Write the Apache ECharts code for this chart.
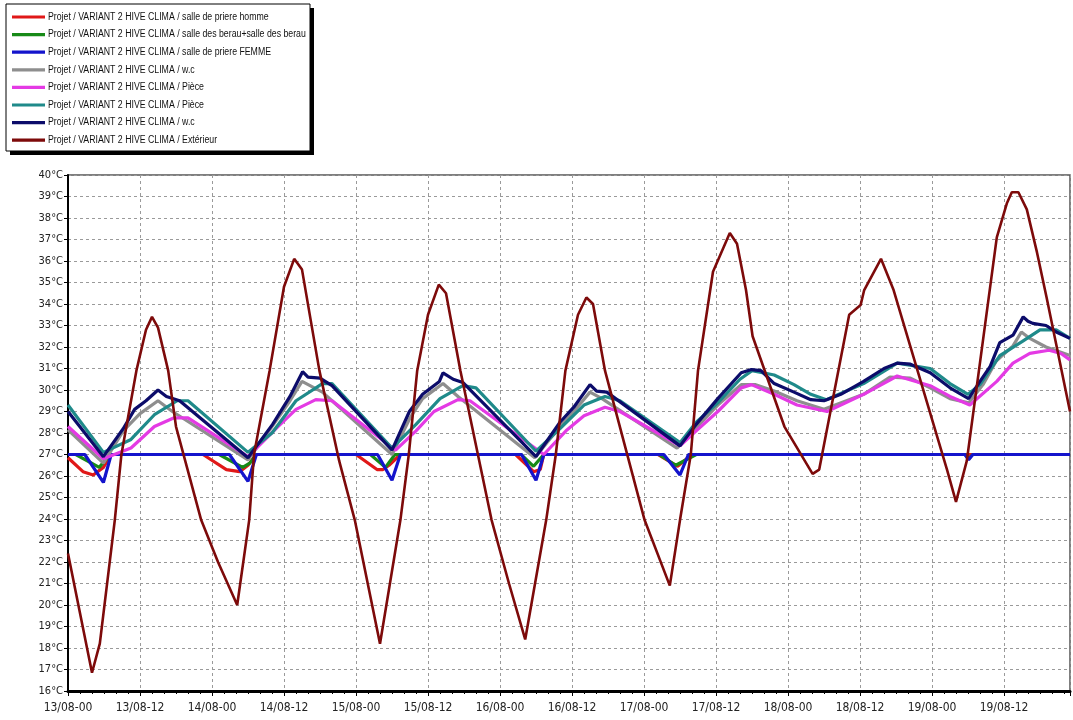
<!DOCTYPE html>
<html>
<head>
<meta charset="utf-8">
<title>VARIANT 2 HIVE CLIMA – températures</title>
<script src="https://cdn.jsdelivr.net/npm/echarts@6/dist/echarts.min.js"></script>
<style>
  html, body { margin: 0; padding: 0; background: #fff; }
  #chart { width: 1073px; height: 720px; }
</style>
</head>
<body>
<div id="chart"></div>
<script>
// Hours counted from 13/08 00:00, one tick label every 12 h
const xTickLabels = ['13/08-00', '13/08-12', '14/08-00', '14/08-12', '15/08-00', '15/08-12',
  '16/08-00', '16/08-12', '17/08-00', '17/08-12', '18/08-00', '18/08-12', '19/08-00', '19/08-12'];

const seriesNames = [
  'Projet / VARIANT 2 HIVE CLIMA / salle de priere homme',
  'Projet / VARIANT 2 HIVE CLIMA / salle des berau+salle des berau',
  'Projet / VARIANT 2 HIVE CLIMA / salle de priere FEMME',
  'Projet / VARIANT 2 HIVE CLIMA / w.c',
  'Projet / VARIANT 2 HIVE CLIMA / Pièce',
  'Projet / VARIANT 2 HIVE CLIMA / Pièce',
  'Projet / VARIANT 2 HIVE CLIMA / w.c',
  'Projet / VARIANT 2 HIVE CLIMA / Extérieur'
];
const seriesColors = ['#e01818', '#178a17', '#1414cc', '#8e8e8e', '#e43ae4', '#1f8a8a', '#0c0c6a', '#7d0a0a'];

// salle de priere homme
const redHours = [0, 2.5, 4.2, 5.9, 7.2, 22.5, 26.4, 28.6, 30, 31.4, 48, 51.5, 52.5, 53.5, 55.4,
  74.6, 77.6, 78.7, 79.3, 98.3, 101.6, 104, 167];
const redTemps = [26.85, 26.2, 26.05, 26.4, 27, 27, 26.3, 26.2, 26.5, 27, 27, 26.3, 26.3, 26.5, 27,
  27, 26.2, 26.3, 27, 27, 26.45, 27, 27];

// salle des berau
const greenHours = [0, 1.3, 5.2, 6.1, 7.2, 25.2, 29.1, 30.3, 31.4, 50.4, 52.9, 54.5, 75.5, 77.6, 79.3,
  98.5, 101.3, 104.7, 149.5, 150.1, 150.8, 167];
const greenTemps = [27, 27, 26.4, 26.7, 27, 27, 26.4, 26.6, 27, 27, 26.4, 27, 27, 26.45, 27,
  27, 26.5, 27, 27, 26.8, 27, 27];

// salle de priere FEMME
const blueHours = [0, 2.8, 5.9, 7.2, 26.9, 30, 31.4, 51.6, 54, 55.4, 75.6, 78, 79.3, 99.3, 102, 103.4,
  149.5, 150.1, 150.8, 167];
const blueTemps = [27, 27, 25.7, 27, 27, 25.75, 27, 27, 25.8, 27, 27, 25.8, 27, 27, 26.05, 27,
  27, 26.75, 27, 27];

// w.c (gris)
const grayHours = [0, 5.9, 9.2, 12, 15, 17.4, 30, 34, 37, 39, 42.4, 44, 54, 57, 59.1, 62.5, 65, 77.8,
  82, 84.3, 87, 89, 101.5, 104.7, 108.3, 112.2, 114.5, 117.7, 121.5, 126, 132.6, 137, 140.4, 143.7,
  147, 150.1, 152.5, 154.7, 157.5, 158.9, 160.3, 163, 165, 167];
const grayTemps = [28.15, 26.6, 28.1, 28.9, 29.5, 29.0, 26.75, 28.3, 29.5, 30.4, 29.9, 29.5, 27.0, 28.7,
  29.6, 30.3, 29.7, 26.85, 28.3, 29.0, 29.9, 29.6, 27.3, 28.25, 29.3, 30.25, 30.25, 29.95, 29.5, 29.1,
  29.8, 30.6, 30.55, 30.1, 29.6, 29.4, 30.25, 31.35, 32.05, 32.7, 32.4, 32.0, 31.8, 31.6];

// Pièce (magenta)
const magentaHours = [0, 5.9, 10.5, 14.4, 17.6, 20, 30, 35, 38, 41.3, 44, 54.6, 58, 61, 65, 67, 79.3,
  83, 86, 89.5, 92, 102, 104.7, 108.3, 112.2, 113.9, 117.7, 121.5, 126.5, 132.6, 138.2, 143.7, 147,
  150.3, 154.8, 157.5, 160.3, 163.5, 165.5, 167];
const magentaTemps = [28.3, 26.8, 27.3, 28.3, 28.7, 28.7, 26.9, 28.3, 29.1, 29.55, 29.5, 27.2, 28.1,
  29.0, 29.55, 29.5, 27.0, 28.1, 28.8, 29.2, 29.0, 27.4, 28.1, 29.0, 30.1, 30.25, 29.8, 29.3, 29.0,
  29.8, 30.65, 30.2, 29.7, 29.3, 30.4, 31.25, 31.7, 31.85, 31.7, 31.4];

// Pièce (bleu-vert)
const tealHours = [0, 5.9, 10.5, 14.4, 18.2, 20, 30, 34, 38, 42.4, 44, 54, 58, 62, 65.8, 68, 78, 82, 86,
  89.5, 92, 102, 104.7, 108.3, 112, 114, 117.7, 121, 123.8, 126.4, 132.6, 138.2, 143.7, 147, 150,
  152, 155.3, 159, 162, 164.7, 167];
const tealTemps = [29.3, 27.1, 27.7, 28.85, 29.5, 29.5, 27.1, 28.0, 29.5, 30.3, 30.3, 27.3, 28.4, 29.6,
  30.2, 30.1, 27.15, 28.2, 29.3, 29.7, 29.5, 27.55, 28.5, 29.4, 30.5, 30.9, 30.7, 30.25, 29.8, 29.55,
  30.3, 31.25, 31.0, 30.3, 29.8, 30.25, 31.6, 32.25, 32.8, 32.8, 32.4];

// w.c (bleu nuit)
const navyHours = [0, 5.9, 9.2, 11.1, 13, 15, 16.4, 18.6, 30, 34.1, 37, 39.1, 40, 42, 44, 54, 56.9, 59.1,
  61.9, 62.5, 64.2, 65.8, 78, 82, 84.3, 87, 88.1, 89.8, 102, 104.7, 108.3, 112.2, 113.9, 115.5, 117.7,
  121, 123.8, 126, 128.8, 132.6, 136, 138.2, 140.4, 143.7, 147, 150.1, 152, 153.7, 155.3, 157.5, 159.2,
  160, 160.8, 163, 164.7, 167];
const navyTemps = [29.0, 26.9, 28.2, 29.1, 29.5, 30.0, 29.7, 29.5, 26.85, 28.4, 29.7, 30.85, 30.6, 30.55,
  30.2, 27.2, 29.0, 29.8, 30.4, 30.8, 30.5, 30.35, 26.9, 28.5, 29.2, 30.25, 29.95, 29.9, 27.4, 28.4, 29.6,
  30.8, 30.95, 30.9, 30.3, 29.9, 29.55, 29.5, 29.8, 30.4, 31.0, 31.25, 31.2, 30.8, 30.1, 29.6, 30.4, 31.1,
  32.2, 32.55, 33.4, 33.2, 33.1, 33.0, 32.7, 32.4];

// Extérieur
const extHours = [0, 4, 5.3, 7.8, 8.9, 11.4, 13, 14, 15, 16.7, 18, 22.2, 25, 28.2, 30.2, 31, 33.6, 36,
  37.7, 39, 41.9, 45.2, 47.8, 52, 55.4, 56.8, 58.2, 60, 61.8, 63, 65.4, 70.6, 73.5, 76.2, 79.7, 81.3,
  82.9, 85, 86.4, 87.5, 89.5, 96.1, 100.3, 102, 103.8, 105, 107.5, 110.3, 111.5, 113, 114.1, 119.4,
  124.1, 125.2, 130.2, 132.1, 132.7, 135.5, 137.6, 146.5, 148, 149.8, 154.8, 156.5, 157.3, 158.4,
  159.8, 161.5, 163.1, 167];
const extTemps = [22.4, 16.85, 18.2, 23.95, 27, 30.9, 32.8, 33.4, 32.9, 30.9, 28.3, 23.95, 22.0, 20.0,
  23.95, 27.0, 30.9, 34.8, 36.1, 35.6, 30.9, 26.7, 23.95, 18.2, 23.95, 27, 30.9, 33.5, 34.9, 34.5,
  30.9, 23.95, 21.0, 18.4, 23.95, 27.0, 30.9, 33.5, 34.3, 34.0, 30.9, 23.95, 20.9, 23.95, 27.0, 30.9,
  35.5, 37.3, 36.8, 34.65, 32.5, 28.3, 26.1, 26.3, 33.5, 33.95, 34.65, 36.1, 34.65, 26.3, 24.8, 26.7,
  37.1, 38.7, 39.2, 39.2, 38.4, 36.4, 34.3, 29.0];

const seriesHours = [redHours, greenHours, blueHours, grayHours, magentaHours, tealHours, navyHours, extHours];
const seriesTemps = [redTemps, greenTemps, blueTemps, grayTemps, magentaTemps, tealTemps, navyTemps, extTemps];

const labelFont = "'Liberation Sans Narrow', 'Arial Narrow', 'DejaVu Sans Condensed', 'Liberation Sans', Arial, sans-serif";

const chart = echarts.init(document.getElementById('chart'), null, { renderer: 'canvas' });

const series = seriesNames.map((name, i) => ({
  id: 's' + i,
  name: name,
  type: 'line',
  showSymbol: false,
  symbol: 'none',
  animation: false,
  z: 2 + i,
  lineStyle: { color: seriesColors[i], width: i === 7 ? 2.6 : 3.2 },
  itemStyle: { color: seriesColors[i] },
  data: seriesHours[i].map((h, k) => [h, seriesTemps[i][k]])
}));

// Legend box drawn as a framed panel with a drop shadow
const legendItems = [];
legendItems.push({ type: 'rect', shape: { x: 10, y: 8, width: 304, height: 147 }, style: { fill: '#000' } });
legendItems.push({ type: 'rect', shape: { x: 6, y: 4, width: 304, height: 147 },
  style: { fill: '#fff', stroke: '#000', lineWidth: 1 } });
seriesNames.forEach((name, i) => {
  const y = 17 + i * 17.6;
  legendItems.push({ type: 'line', shape: { x1: 12, y1: y, x2: 45, y2: y },
    style: { stroke: seriesColors[i], lineWidth: 3.2 } });
  legendItems.push({ type: 'text', x: 48, y: y, scaleX: 0.875,
    style: { text: name, fill: '#111', font: "10px 'Liberation Sans', Arial, sans-serif", textVerticalAlign: 'middle' } });
});

chart.setOption({
  backgroundColor: '#fff',
  animation: false,
  grid: { left: 68, top: 175, right: 0, bottom: 29, show: true, borderColor: '#555', borderWidth: 1.5, backgroundColor: '#fff' },
  xAxis: {
    type: 'value', min: 0, max: 167, interval: 12,
    axisLine: { show: true, onZero: false, lineStyle: { color: '#000', width: 3 } },
    axisTick: { show: true, length: 5, lineStyle: { color: '#000', width: 1 } },
    minorTick: { show: true, splitNumber: 6, length: 3, lineStyle: { color: '#000', width: 1 } },
    splitLine: { show: true, lineStyle: { color: '#9a9a9a', type: [3, 3], width: 1 } },
    axisLabel: {
      margin: 11, fontSize: 12, color: '#222', fontFamily: labelFont,
      formatter: v => xTickLabels[Math.round(v / 12)] || ''
    }
  },
  yAxis: {
    type: 'value', min: 16, max: 40, interval: 1,
    axisLine: { show: true, lineStyle: { color: '#000', width: 2 } },
    axisTick: { show: true, length: 4, lineStyle: { color: '#000' } },
    splitLine: { show: true, lineStyle: { color: '#9a9a9a', type: [3, 3], width: 1 } },
    axisLabel: { margin: 5, fontSize: 11, color: '#222', fontFamily: labelFont, formatter: '{value}°C' }
  },
  graphic: legendItems,
  series: series
});
</script>
</body>
</html>
